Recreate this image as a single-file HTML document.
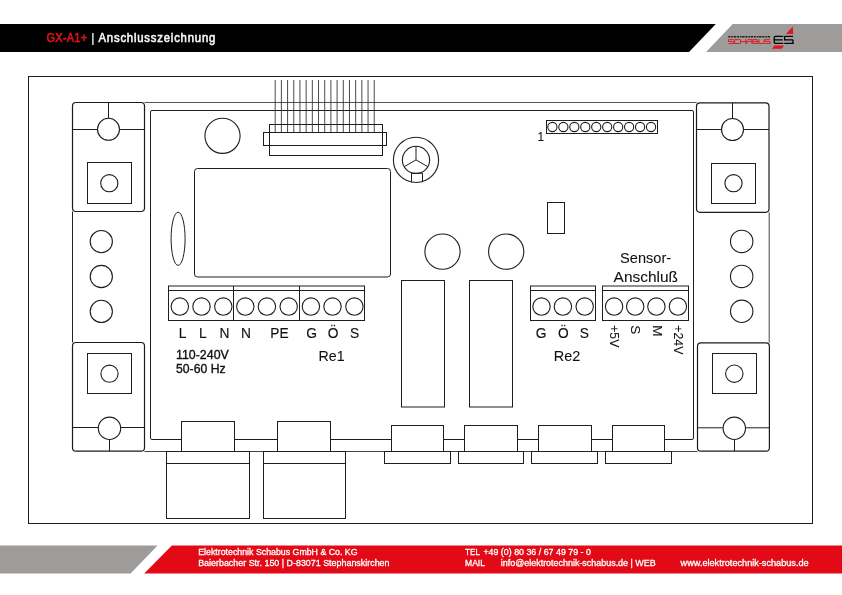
<!DOCTYPE html>
<html><head><meta charset="utf-8">
<style>
html,body{margin:0;padding:0;background:#fff;}
body{width:842px;height:595px;overflow:hidden;position:relative;font-family:"Liberation Sans",sans-serif;}
svg{position:absolute;left:0;top:0;will-change:transform;}
</style></head><body>
<svg width="842" height="595" viewBox="0 0 842 595">
<!-- header -->
<polygon points="0,24 715.8,24 689,52.1 0,52.1" fill="#000"/>
<polygon points="732.7,24 842,24 842,52 706.1,52" fill="#9e9c9a"/>
<g font-family="Liberation Sans" font-size="12.6" stroke-width="0.6">
<text transform="translate(46.6,41.8) scale(0.88 1)" fill="#e3141b" stroke="#e3141b" textLength="46.1" lengthAdjust="spacing">GX-A1+</text>
<text x="91.3" y="42" fill="#fff" stroke="#fff" stroke-width="0.2" font-size="12.2">|</text>
<text transform="translate(98.5,41.8) scale(0.9 1)" fill="#f7f7f7" stroke="#f7f7f7" textLength="129.8" lengthAdjust="spacing">Anschlusszeichnung</text>
</g>
<!-- logo -->
<path d="M728.3,36.75 H770.8" stroke="#1e1e1e" stroke-width="1.4" stroke-dasharray="2.1 0.9 1.6 0.7 2.4 0.8"/>
<path fill="none" stroke="#e3141b" stroke-width="0.9" d="M733.60,39.6 H728.50 V41.55 H733.60 V43.5 H728.50 M739.70,39.6 H734.60 V43.5 H739.70 M740.70,39.15 V43.95 M745.80,39.15 V43.95 M740.70,41.55 H745.80 M746.80,43.95 V40.60 L747.80,39.6 H751.90 V43.95 M746.80,41.55 H751.90 M752.90,39.6 H757.40 V41.55 M752.90,41.55 H758.00 V43.5 H752.90 V39.15 M759.00,39.15 V43.5 H764.10 V39.15 M770.20,39.6 H765.10 V41.55 H770.20 V43.5 H765.10"/>
<path fill="none" stroke="#000" stroke-width="1.3" d="M783.3,36.3 H775.3 Q774.2,36.3 774.2,37.4 V42.2 Q774.2,43.3 775.3,43.3 H783.3 M774.2,39.8 H782.6 M793,36.3 H785.3 Q784.6,36.3 784.6,37 V39.8 H792.2 Q793,39.8 793,40.6 V43.3 H784.3"/>
<polygon points="785.9,33.9 792.8,26.4 793.2,33.9" fill="#e3141b"/>
<polygon points="772,48.7 774.4,45.4 784,45.4 781.7,48.7" fill="#e3141b"/>
<!-- footer -->
<polygon points="0,545.5 157.6,545.5 130.6,573.5 0,573.5" fill="#9e9c9a"/>
<polygon points="171.9,545.5 842,545.5 842,573.5 144.2,573.5" fill="#e20a16"/>
<g font-family="Liberation Sans" font-size="9.1" fill="#fff" stroke="#fff" stroke-width="0.3">
<text x="198.2" y="555.2" textLength="159.4" lengthAdjust="spacingAndGlyphs">Elektrotechnik Schabus GmbH &amp; Co. KG</text>
<text x="198.2" y="565.8" textLength="191.3" lengthAdjust="spacingAndGlyphs">Baierbacher Str. 150 | D-83071 Stephanskirchen</text>
<text x="465" y="555.2" textLength="15" lengthAdjust="spacingAndGlyphs">TEL</text>
<text x="483.4" y="555.2" textLength="107.5" lengthAdjust="spacingAndGlyphs">+49 (0) 80 36 / 67 49 79 - 0</text>
<text x="465" y="565.8" textLength="20" lengthAdjust="spacingAndGlyphs">MAIL</text>
<text x="500.8" y="565.8" textLength="154.9" lengthAdjust="spacingAndGlyphs">info@elektrotechnik-schabus.de | WEB</text>
<text x="680.6" y="565.8" textLength="128" lengthAdjust="spacingAndGlyphs">www.elektrotechnik-schabus.de</text>
</g>
<!-- drawing -->
<g fill="none" stroke="#1e1e1e" stroke-width="1">
<rect x="28.5" y="76.5" width="784.0" height="447.0" rx="0" />
<line x1="144.5" y1="102.5" x2="696.5" y2="102.5" stroke="#555"/>
<line x1="144.5" y1="451.5" x2="697.5" y2="451.5" stroke="#444"/>
<rect x="150.5" y="110.5" width="543.0" height="329.0" rx="1.5" />
<rect x="72.5" y="102.5" width="72.0" height="109.0" rx="3.5" stroke-width="1.2" stroke="#1a1a1a"/>
<line x1="72.5" y1="129.5" x2="97.5" y2="129.5" />
<line x1="119.5" y1="129.5" x2="144.5" y2="129.5" />
<line x1="108.5" y1="102.5" x2="108.5" y2="118.2" />
<circle cx="108.5" cy="129.3" r="11" stroke-width="1.1"/>
<rect x="87.5" y="162.5" width="44.0" height="41.0" rx="0" />
<circle cx="109.3" cy="183.2" r="8.6" stroke-width="1.1"/>
<line x1="72.5" y1="211.5" x2="72.5" y2="342.5" stroke="#222"/>
<circle cx="101.3" cy="241.6" r="11.1" stroke-width="1.1"/>
<circle cx="101.3" cy="276.5" r="11.1" stroke-width="1.1"/>
<circle cx="101.3" cy="311.4" r="11.1" stroke-width="1.1"/>
<rect x="72.5" y="342.5" width="72.0" height="108.7" rx="3.5" stroke-width="1.2" stroke="#1a1a1a"/>
<rect x="87.5" y="353.5" width="44.0" height="40.0" rx="0" />
<circle cx="109.5" cy="373.7" r="8.6" stroke-width="1.1"/>
<line x1="72.5" y1="427.5" x2="98.3" y2="427.5" />
<line x1="120.7" y1="427.5" x2="144.5" y2="427.5" />
<circle cx="109.5" cy="428.3" r="11.2" stroke-width="1.1"/>
<line x1="109.5" y1="439.5" x2="109.5" y2="451.2" />
<rect x="696.5" y="102.8" width="72.5" height="109.5" rx="3.5" stroke-width="1.2" stroke="#1a1a1a"/>
<line x1="696.5" y1="129.5" x2="721.5" y2="129.5" />
<line x1="743.5" y1="129.5" x2="769" y2="129.5" />
<line x1="732.5" y1="102.8" x2="732.5" y2="118.5" />
<circle cx="732.5" cy="129.5" r="11" stroke-width="1.1"/>
<rect x="711.5" y="163.5" width="44.0" height="40.0" rx="0" />
<circle cx="733.5" cy="183.2" r="8.6" stroke-width="1.1"/>
<line x1="769.2" y1="212.3" x2="769.2" y2="342.8" stroke="#444"/>
<circle cx="741.7" cy="241.4" r="11.2" stroke-width="1.1"/>
<circle cx="741.7" cy="276.4" r="11.2" stroke-width="1.1"/>
<circle cx="741.7" cy="311.3" r="11.2" stroke-width="1.1"/>
<rect x="697.5" y="342.8" width="71.9" height="108.4" rx="3.5" stroke-width="1.2" stroke="#1a1a1a"/>
<rect x="712.5" y="353.5" width="44.0" height="40.0" rx="0" />
<circle cx="734.3" cy="373.7" r="8.7" stroke-width="1.1"/>
<line x1="697.5" y1="427.8" x2="723" y2="427.8" />
<line x1="745.5" y1="427.8" x2="769.4" y2="427.8" />
<circle cx="734.3" cy="428.3" r="11.2" stroke-width="1.1"/>
<line x1="734.5" y1="439.5" x2="734.5" y2="451.2" />
<circle cx="222.5" cy="135.8" r="17.6" stroke-width="1.1"/>
<line x1="275.2" y1="80" x2="275.2" y2="132.5" stroke-width="0.85" stroke="#2a2a2a"/>
<line x1="281.39" y1="80" x2="281.39" y2="132.5" stroke-width="0.85" stroke="#2a2a2a"/>
<line x1="287.58" y1="80" x2="287.58" y2="132.5" stroke-width="0.85" stroke="#2a2a2a"/>
<line x1="293.77" y1="80" x2="293.77" y2="132.5" stroke-width="0.85" stroke="#2a2a2a"/>
<line x1="299.96" y1="80" x2="299.96" y2="132.5" stroke-width="0.85" stroke="#2a2a2a"/>
<line x1="306.15" y1="80" x2="306.15" y2="132.5" stroke-width="0.85" stroke="#2a2a2a"/>
<line x1="312.34" y1="80" x2="312.34" y2="132.5" stroke-width="0.85" stroke="#2a2a2a"/>
<line x1="318.53" y1="80" x2="318.53" y2="132.5" stroke-width="0.85" stroke="#2a2a2a"/>
<line x1="324.72" y1="80" x2="324.72" y2="132.5" stroke-width="0.85" stroke="#2a2a2a"/>
<line x1="330.91" y1="80" x2="330.91" y2="132.5" stroke-width="0.85" stroke="#2a2a2a"/>
<line x1="337.1" y1="80" x2="337.1" y2="132.5" stroke-width="0.85" stroke="#2a2a2a"/>
<line x1="343.29" y1="80" x2="343.29" y2="132.5" stroke-width="0.85" stroke="#2a2a2a"/>
<line x1="349.48" y1="80" x2="349.48" y2="132.5" stroke-width="0.85" stroke="#2a2a2a"/>
<line x1="355.67" y1="80" x2="355.67" y2="132.5" stroke-width="0.85" stroke="#2a2a2a"/>
<line x1="361.86" y1="80" x2="361.86" y2="132.5" stroke-width="0.85" stroke="#2a2a2a"/>
<line x1="368.05" y1="80" x2="368.05" y2="132.5" stroke-width="0.85" stroke="#2a2a2a"/>
<line x1="374.24" y1="80" x2="374.24" y2="132.5" stroke-width="0.85" stroke="#2a2a2a"/>
<rect x="269.5" y="124.5" width="113.0" height="31.0" rx="0" />
<line x1="269.5" y1="132.5" x2="382.5" y2="132.5" />
<line x1="269.5" y1="145.5" x2="382.5" y2="145.5" />
<rect x="263.5" y="132.5" width="6.0" height="13.0" rx="0" />
<rect x="382.5" y="132.5" width="4.0" height="13.0" rx="0" />
<rect x="194.5" y="168.5" width="196.0" height="108.5" rx="3" />
<ellipse cx="178.1" cy="238.8" rx="7" ry="26.6"/>
<circle cx="416" cy="159.9" r="22.6" stroke-width="1.1"/>
<circle cx="416" cy="159.9" r="13.6" stroke-width="1.1"/>
<line x1="416" y1="159.9" x2="416.0" y2="146.3" />
<line x1="416" y1="159.9" x2="404.22" y2="166.7" />
<line x1="416" y1="159.9" x2="427.78" y2="166.7" />
<path d="M411.5,182.2 V173.2 H422.5 V182.2"/>
<rect x="546.5" y="120.5" width="111.0" height="13.0" rx="0" />
<circle cx="552.4" cy="127" r="4.6" stroke-width="1.1"/>
<circle cx="563.36" cy="127" r="4.6" stroke-width="1.1"/>
<circle cx="574.32" cy="127" r="4.6" stroke-width="1.1"/>
<circle cx="585.28" cy="127" r="4.6" stroke-width="1.1"/>
<circle cx="596.24" cy="127" r="4.6" stroke-width="1.1"/>
<circle cx="607.2" cy="127" r="4.6" stroke-width="1.1"/>
<circle cx="618.16" cy="127" r="4.6" stroke-width="1.1"/>
<circle cx="629.12" cy="127" r="4.6" stroke-width="1.1"/>
<circle cx="640.08" cy="127" r="4.6" stroke-width="1.1"/>
<circle cx="651.04" cy="127" r="4.6" stroke-width="1.1"/>
<rect x="547.5" y="202.5" width="17.0" height="31.0" rx="0" />
<circle cx="442.5" cy="251.6" r="17.6" stroke-width="1.1"/>
<circle cx="506.2" cy="251.6" r="17.6" stroke-width="1.1"/>
<rect x="401.5" y="280.5" width="43.0" height="126.5" rx="0" />
<rect x="469.5" y="280.5" width="43.0" height="126.5" rx="0" />
<rect x="168.5" y="286" width="196.0" height="34.5" rx="0" />
<line x1="168.5" y1="290.5" x2="364.5" y2="290.5" />
<line x1="233.5" y1="286" x2="233.5" y2="320.5" />
<line x1="299.5" y1="286" x2="299.5" y2="320.5" />
<circle cx="179.8" cy="306.6" r="8.7" stroke-width="1.1"/>
<circle cx="201.5" cy="306.6" r="8.7" stroke-width="1.1"/>
<circle cx="223.3" cy="306.6" r="8.7" stroke-width="1.1"/>
<circle cx="245.3" cy="306.6" r="8.7" stroke-width="1.1"/>
<circle cx="266.9" cy="306.6" r="8.7" stroke-width="1.1"/>
<circle cx="288.7" cy="306.6" r="8.7" stroke-width="1.1"/>
<circle cx="310.9" cy="306.6" r="8.7" stroke-width="1.1"/>
<circle cx="332.5" cy="306.6" r="8.7" stroke-width="1.1"/>
<circle cx="354.4" cy="306.6" r="8.7" stroke-width="1.1"/>
<rect x="530.5" y="286" width="65.0" height="34.5" rx="0" />
<line x1="530.5" y1="290.5" x2="595.5" y2="290.5" />
<circle cx="541.5" cy="306.6" r="8.7" stroke-width="1.1"/>
<circle cx="562.9" cy="306.6" r="8.7" stroke-width="1.1"/>
<circle cx="584.7" cy="306.6" r="8.7" stroke-width="1.1"/>
<rect x="602.5" y="286" width="86.0" height="34.5" rx="0" />
<line x1="602.5" y1="290.5" x2="688.5" y2="290.5" />
<circle cx="614.1" cy="306.6" r="8.7" stroke-width="1.1"/>
<circle cx="635.2" cy="306.6" r="8.7" stroke-width="1.1"/>
<circle cx="656.4" cy="306.6" r="8.7" stroke-width="1.1"/>
<circle cx="677.9" cy="306.6" r="8.7" stroke-width="1.1"/>
<rect x="181.5" y="421.5" width="53.0" height="30.0" rx="0" fill="#fff"/>
<rect x="277.5" y="421.5" width="53.0" height="30.0" rx="0" fill="#fff"/>
<rect x="166.5" y="451.5" width="83.0" height="67.0" rx="0" />
<line x1="166.5" y1="463.5" x2="249.5" y2="463.5" />
<rect x="263.5" y="451.5" width="82.0" height="67.0" rx="0" />
<line x1="263.5" y1="463.5" x2="345.5" y2="463.5" />
<rect x="391.5" y="425.5" width="52.0" height="26.0" rx="0" fill="#fff"/>
<rect x="464.5" y="425.5" width="53.0" height="26.0" rx="0" fill="#fff"/>
<rect x="538.5" y="425.5" width="53.0" height="26.0" rx="0" fill="#fff"/>
<rect x="612.5" y="425.5" width="52.0" height="26.0" rx="0" fill="#fff"/>
<rect x="384.5" y="451.5" width="66.0" height="12.0" rx="0" />
<rect x="458.5" y="451.5" width="65.0" height="12.0" rx="0" />
<rect x="531.5" y="451.5" width="66.0" height="12.0" rx="0" />
<rect x="605.5" y="451.5" width="66.0" height="12.0" rx="0" />
</g>
<g font-family="Liberation Sans" fill="#111" stroke="#111" stroke-width="0.08">

<text x="537.4" y="140.8" font-size="11.9">1</text>
<g font-size="14.8" text-anchor="middle" stroke-width="0.15">
<text transform="translate(182.55,337.7) scale(0.93 1)">L</text>
<text transform="translate(202.75,337.7) scale(0.93 1)">L</text>
<text transform="translate(224.35,337.7) scale(0.93 1)">N</text>
<text transform="translate(245.95,337.7) scale(0.93 1)">N</text>
<text transform="translate(279.4,337.7) scale(0.93 1)">PE</text>
<text transform="translate(311.6,337.7) scale(0.93 1)">G</text>
<text transform="translate(333.05,337.7) scale(0.93 1)">Ö</text>
<text transform="translate(354.5,337.7) scale(0.93 1)">S</text>
<text transform="translate(541.2,337.7) scale(0.93 1)">G</text>
<text transform="translate(563.25,337.7) scale(0.93 1)">Ö</text>
<text transform="translate(584.45,337.7) scale(0.93 1)">S</text>
</g>
<text x="176" y="359.4" font-size="12.2" stroke-width="0.35" textLength="52.8" lengthAdjust="spacingAndGlyphs">110-240V</text>
<text x="176" y="372.8" font-size="12.2" stroke-width="0.35" textLength="49.6" lengthAdjust="spacingAndGlyphs">50-60 Hz</text>
<text x="318.6" y="360.7" font-size="14.2" textLength="26" lengthAdjust="spacingAndGlyphs">Re1</text>
<text x="553.8" y="360.8" font-size="14.2" textLength="26.6" lengthAdjust="spacingAndGlyphs">Re2</text>
<text x="620.1" y="262.7" font-size="14" textLength="51" lengthAdjust="spacingAndGlyphs">Sensor-</text>
<text x="613.6" y="281.5" font-size="14" textLength="64.3" lengthAdjust="spacingAndGlyphs">Anschluß</text>
<g font-size="13.6">
<text transform="translate(609.9,325.2) rotate(90)" textLength="22.2" lengthAdjust="spacingAndGlyphs">+5V</text>
<text transform="translate(631,325.2) rotate(90)">S</text>
<text transform="translate(652.5,325.3) rotate(90)">M</text>
<text transform="translate(674.1,325.2) rotate(90)" textLength="29.2" lengthAdjust="spacingAndGlyphs">+24V</text>
</g>

</g>
</svg>
</body></html>
